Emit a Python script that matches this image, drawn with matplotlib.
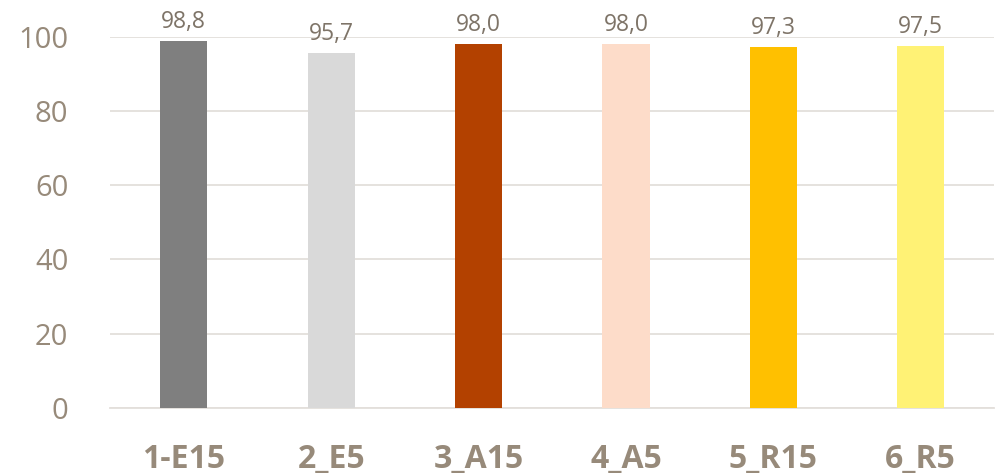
import matplotlib.pyplot as plt

# samples and their values (%)
categories = ['1-E15', '2_E5', '3_A15', '4_A5', '5_R15', '6_R5']
values = [98.8, 95.7, 98.0, 98.0, 97.3, 97.5]
bar_colors = ['#7F7F7F', '#D9D9D9', '#B34100', '#FDDCC9', '#FFC000', '#FFF275']
yticks = [0, 20, 40, 60, 80, 100]

plt.rcParams['font.family'] = ['Open Sans', 'DejaVu Sans']
text_col = '#978A7A'
label_col = '#7E7468'

fig = plt.figure(figsize=(10.05, 4.76), dpi=100)
ax = fig.add_axes([0.1095, 0.143, 0.88, 0.78])

x = list(range(len(categories)))
bars = ax.bar(x, values, width=0.32, color=bar_colors, zorder=3)

for xi, v in zip(x, values):
    ax.text(xi, v + 1.8, f'{v:.1f}'.replace('.', ','), ha='center', va='bottom',
            fontsize=16.5, color=label_col)

ax.set_xlim(-0.5, len(categories) - 0.5)
ax.set_ylim(0, 100)
ax.set_yticks(yticks)
ax.set_yticklabels([str(t) for t in yticks], fontsize=21, color=text_col)
ax.yaxis.grid(True, color='#E3DFDB', linewidth=1.3, zorder=0)
ax.set_xticks(x)
ax.set_xticklabels(categories, fontsize=23, fontweight='bold', color=text_col)
ax.tick_params(axis='both', length=0)
ax.tick_params(axis='x', pad=25)
ax.tick_params(axis='y', pad=30)

for s in ['top', 'right', 'left']:
    ax.spines[s].set_visible(False)
ax.spines['bottom'].set_color('#E3DFDB')
ax.spines['bottom'].set_linewidth(1.3)

fig.savefig('out.png', dpi=100)
